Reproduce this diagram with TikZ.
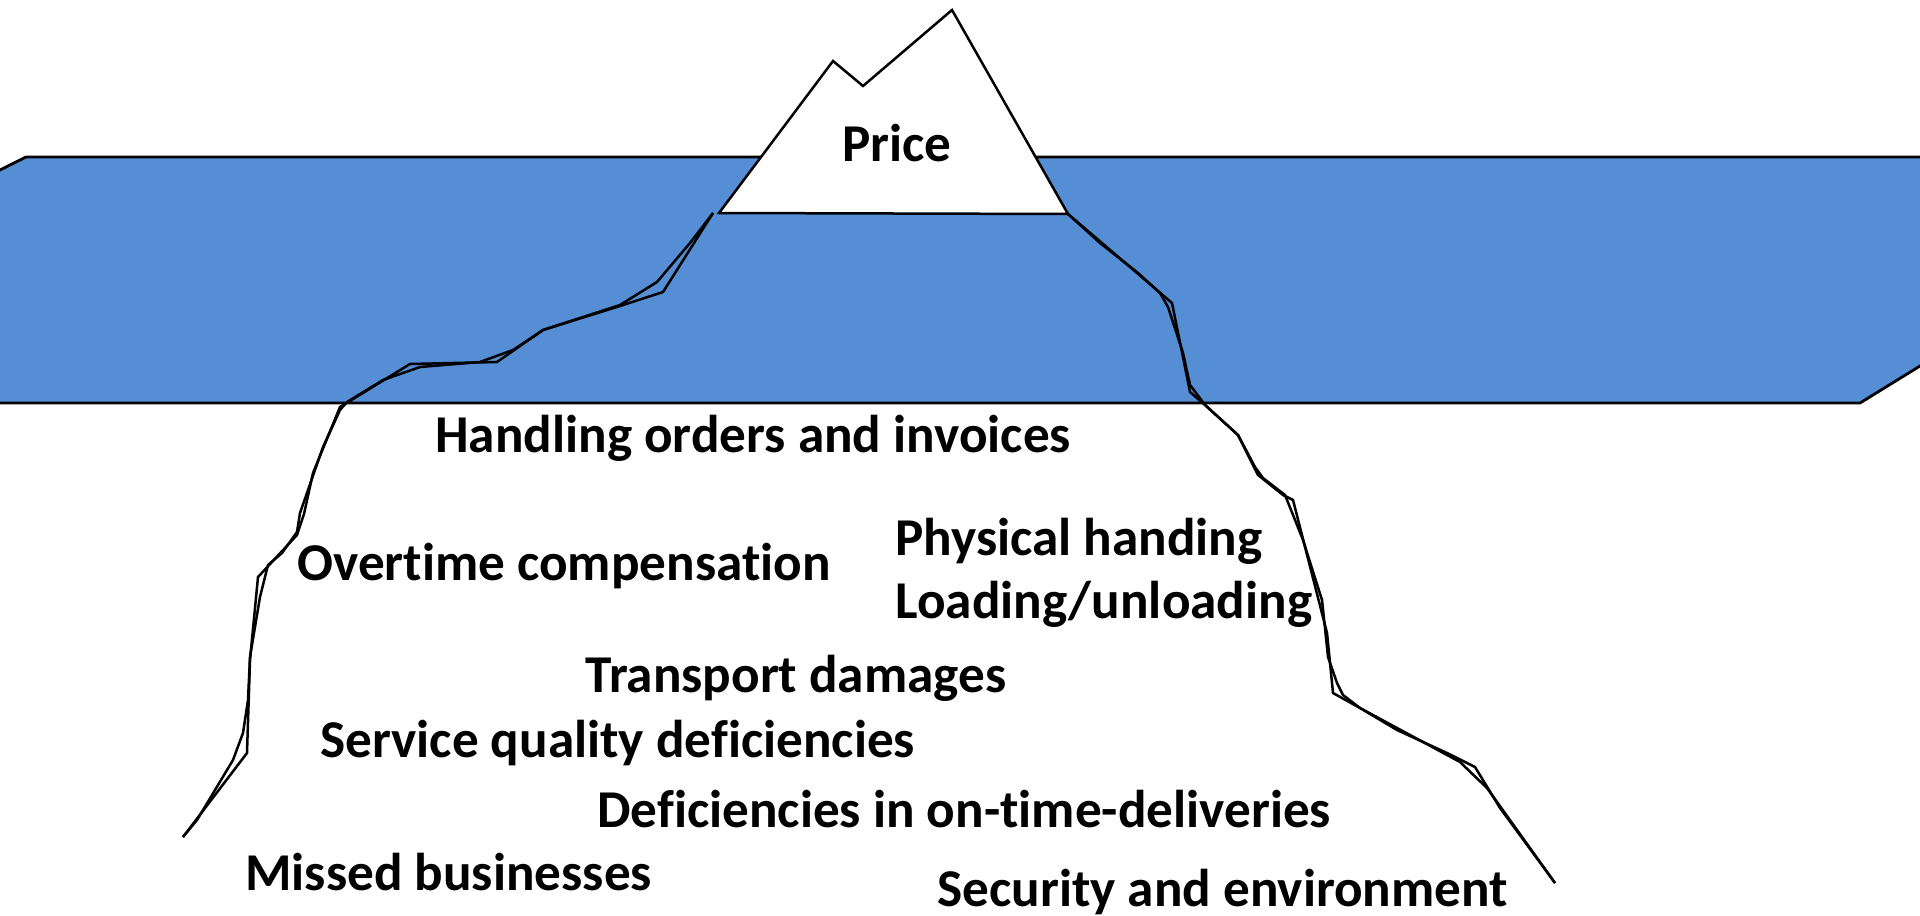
\documentclass[tikz,border=0pt]{standalone}
\usepackage{fontspec}
\setmainfont{Carlito}[RawFeature={-liga;-clig;-dlig}]
\definecolor{water}{HTML}{558ED5}
\begin{document}
\begin{tikzpicture}[x=0.5pt,y=-0.5pt,
  lbl/.style={anchor=base west, inner sep=0pt, font=\bfseries\fontsize{26.6}{32}\selectfont},
  edgeline/.style={draw=black, line width=1.25pt, line join=miter}]
\useasboundingbox (0,0) rectangle (1920,915);
\begin{scope}
\clip (0,0) rectangle (1920,915);
\fill[white] (0,0) rectangle (1920,915);
% water band
\filldraw[fill=water, draw=black, line width=1.4pt]
  (26,157) -- (1980,157) -- (1980,329) -- (1860,403) -- (-60,403) -- (-60,200) -- cycle;
% visible top of the iceberg
\filldraw[fill=white, edgeline]
  (719,213) -- (833,61) -- (863,86) -- (952,10) -- (1068,214) -- cycle;
% left flank, two strokes
\draw[edgeline] (713,213) -- (663,292) -- (620,306) -- (543,330) -- (497,362) -- (410,364)
  -- (340,407) -- (313,473) -- (304,514) -- (297,535) -- (258,577) -- (250,660) -- (247,753) -- (183,837);
\draw[edgeline] (713,213) -- (690,243) -- (657,282) -- (620,305) -- (543,330) -- (513,350)
  -- (480,362) -- (420,367) -- (383,380) -- (347,402) -- (340,410) -- (323,447) -- (300,513)
  -- (297,532) -- (282,553) -- (268,565) -- (260,597) -- (250,657) -- (248,700) -- (243,733)
  -- (233,760) -- (197,820) -- (183,837);
% right flank, two strokes
\draw[edgeline] (1068,214) -- (1130,267) -- (1172,303) -- (1190,392) -- (1205,405) -- (1238,435)
  -- (1258,475) -- (1283,495) -- (1293,500) -- (1327,633) -- (1333,693) -- (1360,708)
  -- (1397,730) -- (1447,753) -- (1475,767) -- (1500,808) -- (1555,883);
\draw[edgeline] (1068,214) -- (1100,243) -- (1138,273) -- (1160,293) -- (1168,307) -- (1183,353)
  -- (1190,385) -- (1205,405) -- (1238,435) -- (1255,467) -- (1263,478) -- (1285,495)
  -- (1303,540) -- (1322,600) -- (1328,657) -- (1337,683) -- (1343,695) -- (1360,708)
  -- (1460,762) -- (1487,788) -- (1555,883);
\end{scope}
% labels
\node[lbl] (price) at (842,161) {Price};
\node[lbl] (orders) at (435,452) {Handling orders and invoices};
\node[lbl] (overtime) at (297,580) {Overtime compensation};
\node[lbl] (physical) at (895,555) {Physical handing};
\node[lbl] (loading) at (895,618) {Loading/unloading};
\node[lbl] (transport) at (585,692) {Transport damages};
\node[lbl] (service) at (320,757) {Service quality deficiencies};
\node[lbl] (ontime) at (597,827) {Deficiencies in on-time-deliveries};
\node[lbl] (missed) at (245,890) {Missed businesses};
\node[lbl] (security) at (937,906) {Security and environment};
\end{tikzpicture}
\end{document}
